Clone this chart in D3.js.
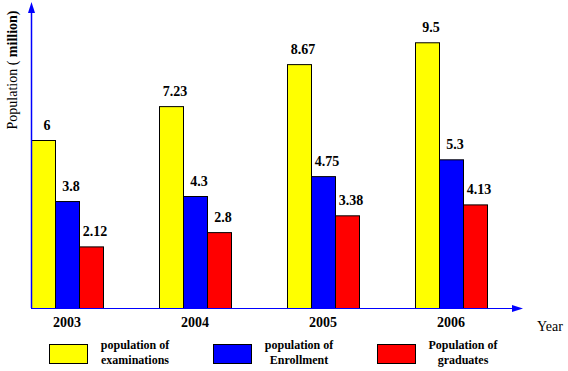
<!DOCTYPE html>
<html>
<head>
<meta charset="utf-8">
<script src="https://cdn.jsdelivr.net/npm/d3@7"></script>
<style>
  html, body { margin: 0; padding: 0; background: #fff; }
  svg { display: block; }
</style>
</head>
<body>
<script>
// ---- data ----
const years = ["2003", "2004", "2005", "2006"];
const seriesNames = ["population of examinations", "population of Enrollment", "Population of graduates"];
// bar heights as drawn in the picture (million)
const examinations = [6, 7.21, 8.71, 9.49];
const enrollment = [3.82, 4.0, 4.71, 5.31];
const graduates = [2.2, 2.71, 3.31, 3.7];
// value labels as printed above the bars
const valueLabels = [["6", "7.23", "8.67", "9.5"], ["3.8", "4.3", "4.75", "5.3"], ["2.12", "2.8", "3.38", "4.13"]];
const legendLines = [["population of", "examinations"], ["population of", "Enrollment"], ["Population of", "graduates"]];
const colors = ["#ffff00", "#0000ff", "#ff0000"];

const series = [examinations, enrollment, graduates];
const FONT = "'Liberation Serif', 'Times New Roman', Times, serif";

const W = 568, H = 371;
const svg = d3.select("body").append("svg").attr("width", W).attr("height", H)
  .attr("font-family", FONT).style("font-family", FONT);

const x0 = d3.scaleBand().domain(years).range([31, 487]).paddingInner(0.4375).paddingOuter(0);
const x1 = d3.scaleBand().domain(d3.range(series.length)).range([0, x0.bandwidth()]).padding(0);
const y = d3.scaleLinear().domain([0, 10]).range([308, 28]);

const axisColor = "#0000ff";

// bars
series.forEach((vals, si) => {
  svg.append("g").selectAll("rect").data(vals).join("rect")
    .attr("x", (d, i) => x0(years[i]) + x1(si) + 0.5)
    .attr("y", d => y(d) + 0.5)
    .attr("width", x1.bandwidth())
    .attr("height", d => y(0) - y(d))
    .attr("fill", colors[si])
    .attr("stroke", "#000")
    .attr("stroke-width", 1);
  svg.append("g").selectAll("text").data(vals).join("text")
    .attr("x", (d, i) => x0(years[i]) + x1(si) + x1.bandwidth() / 2 + 4)
    .attr("y", d => y(d) - 10)
    .attr("text-anchor", "middle")
    .attr("font-size", 14)
    .attr("font-weight", "bold")
    .text((d, i) => valueLabels[si][i]);
});

// axes
const yTop = y.invert(13), yArrowTip = y.invert(2);
const xEnd = 512, xTip = 523;
svg.append("line").attr("x1", 31.5).attr("x2", 31.5).attr("y1", y(0)).attr("y2", y(yTop))
  .attr("stroke", axisColor).attr("stroke-width", 1.5);
svg.append("path")
  .attr("d", `M31.5,${y(yArrowTip)} L28,${y(yTop)} L35,${y(yTop)} Z`)
  .attr("fill", axisColor);
svg.append("line").attr("x1", 31).attr("x2", xEnd).attr("y1", y(0) + 0.5).attr("y2", y(0) + 0.5)
  .attr("stroke", axisColor).attr("stroke-width", 1.2);
svg.append("path")
  .attr("d", `M${xTip},${y(0) + 0.5} L${xEnd},${y(0) - 3} L${xEnd},${y(0) + 4} Z`)
  .attr("fill", axisColor);

// x tick labels
svg.append("g").selectAll("text").data(years).join("text")
  .attr("x", d => x0(d) + x0.bandwidth() / 2)
  .attr("y", 327)
  .attr("text-anchor", "middle")
  .attr("font-size", 14)
  .attr("font-weight", "bold")
  .text(d => d);

// axis titles
svg.append("text").attr("x", 537).attr("y", 331).attr("font-size", 14).text("Year");
const yl = svg.append("text")
  .attr("transform", "translate(17,70) rotate(-90)")
  .attr("text-anchor", "middle")
  .attr("font-size", 14);
yl.append("tspan").text("Population ( ");
yl.append("tspan").attr("font-weight", "bold").text("million)");

// legend
const lg = svg.append("g").selectAll("g").data(seriesNames).join("g")
  .attr("transform", (d, i) => `translate(${49 + i * 164},344)`);
lg.append("rect").attr("x", 0.5).attr("y", 0.5).attr("width", 38).attr("height", 19)
  .attr("fill", (d, i) => colors[i]).attr("stroke", "#000").attr("stroke-width", 1);
lg.each(function (d, i) {
  const t = d3.select(this).append("text")
    .attr("x", 86).attr("text-anchor", "middle")
    .attr("font-size", 12).attr("font-weight", "bold");
  t.append("tspan").attr("x", 86).attr("y", 5).text(legendLines[i][0]);
  t.append("tspan").attr("x", 86).attr("y", 20).text(legendLines[i][1]);
});
</script>
</body>
</html>
